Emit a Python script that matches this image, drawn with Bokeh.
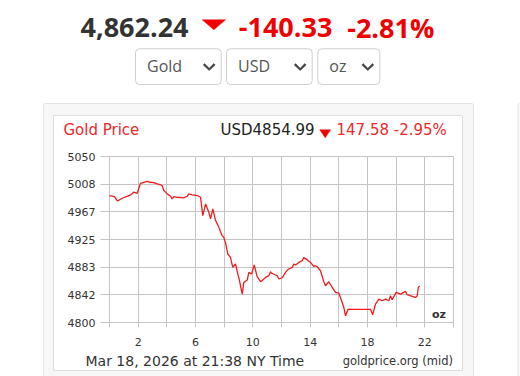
from bokeh.plotting import figure
from bokeh.models import (Label, BoxAnnotation, PolyAnnotation, FixedTicker, Range1d,
                          LinearAxis, Grid)
from bokeh.embed import file_html
from bokeh.resources import INLINE

# ---- data ----
hours = [0.00, 0.35, 0.56, 0.89, 1.23, 1.47, 1.70, 1.93, 2.04, 2.16, 2.39, 2.63, 2.86, 3.09,
         3.33, 3.56, 3.68, 3.79, 4.03, 4.26, 4.37, 4.49, 4.72, 5.07, 5.18, 5.42, 5.53, 5.77,
         6.12, 6.35, 6.51, 6.70, 6.93, 7.05, 7.21, 7.40, 7.58, 7.86, 7.97, 8.09, 8.25, 8.44,
         8.60, 8.79, 8.98, 9.02, 9.26, 9.37, 9.61, 9.72, 9.91, 10.10, 10.30, 10.54, 10.77,
         10.89, 11.12, 11.23, 11.30, 11.58, 11.70, 11.81, 12.05, 12.28, 12.40, 12.51, 12.75,
         12.86, 12.98, 13.21, 13.44, 13.56, 13.63, 13.79, 14.02, 14.25, 14.37, 14.49, 14.72,
         14.95, 15.07, 15.30, 15.54, 15.77, 16.00, 16.19, 16.35, 16.47, 16.65, 16.93, 18.21,
         18.36, 18.56, 18.79, 19.03, 19.26, 19.49, 19.60, 19.72, 20.00, 20.30, 20.53, 20.65,
         20.77, 21.12, 21.35, 21.47, 21.54, 21.63]
prices = [4991.2, 4989.6, 4982.9, 4987.1, 4990.1, 4992.2, 4996.4, 4994.6, 5001.3, 5009.7, 5011.2,
          5012.7, 5011.2, 5010.5, 5008.8, 5007.3, 5006.2, 4998.7, 4993.7, 4990.1, 4986.2, 4989.7,
          4988.6, 4988.1, 4987.7, 4990.1, 4993.7, 4992.2, 4991.2, 4988.6, 4961.0, 4978.6, 4966.0,
          4956.0, 4971.1, 4953.5, 4945.9, 4930.8, 4928.2, 4920.7, 4903.2, 4898.1, 4883.0, 4888.1,
          4870.5, 4867.9, 4842.8, 4860.3, 4864.0, 4875.4, 4873.0, 4886.6, 4869.0, 4861.4, 4865.5,
          4867.9, 4870.5, 4876.5, 4874.5, 4871.5, 4870.5, 4865.5, 4867.4, 4875.4, 4878.8, 4880.6,
          4883.0, 4888.1, 4886.5, 4890.5, 4893.1, 4898.1, 4896.6, 4894.6, 4890.5, 4884.5, 4885.5,
          4883.9, 4878.0, 4861.4, 4855.4, 4861.4, 4852.8, 4845.3, 4844.1, 4832.7, 4822.6, 4810.1,
          4820.2, 4819.9, 4819.9, 4811.6, 4827.8, 4835.3, 4832.7, 4835.3, 4832.7, 4840.3, 4834.2,
          4845.3, 4842.8, 4845.3, 4846.8, 4841.8, 4839.5, 4837.7, 4840.3, 4852.4, 4854.99]

x_ticks = [0, 2, 4, 6, 8, 10, 12, 14, 16, 18, 20, 22, 24]
x_labelled = [2, 6, 10, 14, 18, 22]
y_ticks = [4800, 4841.67, 4883.33, 4925, 4966.67, 5008.33, 5050]
y_tick_labels = ["4800", "4842", "4883", "4925", "4967", "5008", "5050"]

head_price = "4,862.24"
head_change = "-140.33"
head_pct = "-2.81%"
select_labels = ["Gold", "USD", "oz"]
chart_title = "Gold Price"
quote_price = "USD4854.99"
quote_change = "147.58 -2.95%"
timestamp = "Mar 18, 2026 at 21:38 NY Time"
source_note = "goldprice.org (mid)"
unit_label = "oz"

# ---- layout (pixels) ----
W, H = 520, 376
FL, FR, FT, FB = 109, 453, 156, 322      # plot area of the price chart
RED = "#f00000"
GRID = "#c4c4c4"

x0, x1 = x_ticks[0], x_ticks[-1]
y0, y1 = y_ticks[0], y_ticks[-1]
kx = (FR - FL) / (x1 - x0)
ky = (FB - FT) / (y1 - y0)

p = figure(width=W, height=H, output_backend="svg", toolbar_location=None, title=None,
           x_range=Range1d(0, W), y_range=Range1d(H, 0),
           x_axis_type=None, y_axis_type=None, min_border=0)
p.min_border_left = p.min_border_right = p.min_border_top = p.min_border_bottom = 0
p.outline_line_color = None
p.background_fill_color = "white"
p.border_fill_color = "white"
p.extra_x_ranges = {"hours": Range1d(x0 - FL / kx, x1 + (W - FR) / kx)}
p.extra_y_ranges = {"price": Range1d(y0 - (H - FB) / ky, y1 + FT / ky)}

# ---- page decorations (canvas px) ----
def box(l, t, r, b, fill, line, radius=0, level="image"):
    p.add_layout(BoxAnnotation(left=l, right=r, top=t, bottom=b,
                               left_units="canvas", right_units="canvas",
                               top_units="canvas", bottom_units="canvas",
                               fill_color=fill, fill_alpha=1, line_color=line, line_alpha=1,
                               line_width=1, border_radius=radius, level=level))

def label(x, y, text, size, color, font="DejaVu Sans", style="normal", align="left"):
    # y is the wanted baseline; the renderer puts the alphabetic baseline ~0.42em lower
    p.add_layout(Label(x=x, y=y - 0.42 * size, x_units="canvas", y_units="canvas", text=text,
                       text_font=font, text_font_size=f"{size}px", text_color=color,
                       text_font_style=style, text_align=align, text_baseline="alphabetic"))

def poly(xs, ys, color):
    p.add_layout(PolyAnnotation(xs=xs, ys=ys, xs_units="canvas", ys_units="canvas",
                                fill_color=color, fill_alpha=1, line_color=color,
                                line_alpha=1, line_width=0.5))

# cards
box(43, 103, 473, 390, "#f7f7f7", "#e4e4e4", radius=2)
box(53, 115, 462, 370, "#ffffff", "#dedede")
box(517.5, 103, 540, 390, "#fafafa", "#e4e4e4", radius=2)

# ---- chart: grid, axes, line through the extra ranges ----
xt = FixedTicker(ticks=x_ticks)
yt = FixedTicker(ticks=y_ticks)
p.add_layout(Grid(dimension=0, ticker=xt, x_range_name="hours", y_range_name="price",
                  cross_bounds=(y0, y1), grid_line_color=GRID))
p.add_layout(Grid(dimension=1, ticker=yt, x_range_name="hours", y_range_name="price",
                  cross_bounds=(x0, x1), grid_line_color=GRID))

xaxis = LinearAxis(x_range_name="hours", y_range_name="price", fixed_location=y0, ticker=xt,
                   major_label_overrides={t: (str(t) if t in x_labelled else "") for t in x_ticks},
                   major_tick_out=5, major_label_standoff=10)
yaxis = LinearAxis(x_range_name="hours", y_range_name="price", fixed_location=x0, ticker=yt,
                   major_label_overrides=dict(zip(y_ticks, y_tick_labels)),
                   major_tick_out=9, major_label_standoff=5)
for ax in (xaxis, yaxis):
    ax.axis_line_color = None
    ax.major_tick_line_color = GRID
    ax.minor_tick_line_color = None
    ax.major_tick_in = 0
    ax.major_label_text_font = "DejaVu Sans"
    ax.major_label_text_font_size = "11px"
    ax.major_label_text_color = "#333333"
p.add_layout(xaxis, "below")
p.add_layout(yaxis, "left")

p.line(hours, prices, x_range_name="hours", y_range_name="price",
       line_color="#f01c1c", line_width=1.3)

# header
label(80, 38.3, head_price, 27, "#333333", font="Open Sans", style="bold")
poly([201.7, 225, 213.3], [19.3, 19.3, 29.3], RED)
label(238.3, 38.3, head_change, 27, RED, font="Open Sans", style="bold")
label(346.7, 38.3, head_pct, 27, RED, font="Open Sans", style="bold")

# selects
sel_boxes = [(135, 220.7), (226, 311.7), (317.3, 379.3)]
for (l, r), txt in zip(sel_boxes, select_labels):
    box(l, 48.3, r, 84, "#ffffff", "#cfcfcf", radius=4, level="annotation")
    label(l + 11.5, 72.5, txt, 16, "#555555", font="Open Sans")
    cx, cy = r - 12, 66.5
    poly([cx - 6, cx - 4.6, cx, cx + 4.6, cx + 6, cx],
         [cy - 2, cy - 3.4, cy + 1.2, cy - 3.4, cy - 2, cy + 3.6], "#444444")

# chart header
label(63, 136, chart_title, 15, "#ec2a2a")
label(220, 136, quote_price, 15, "#222222")
poly([319.3, 330, 324.7], [129.3, 129.3, 137.3], RED)
label(336, 136, quote_change, 15, "#ec2a2a")

# chart footer
label(85, 366, timestamp, 14, "#333333")
label(452.5, 365, source_note, 11.5, "#333333", align="right")
label(445.5, 318.3, unit_label, 11, "#333333", style="bold", align="right")

open("out.html", "w").write(file_html(p, INLINE))
